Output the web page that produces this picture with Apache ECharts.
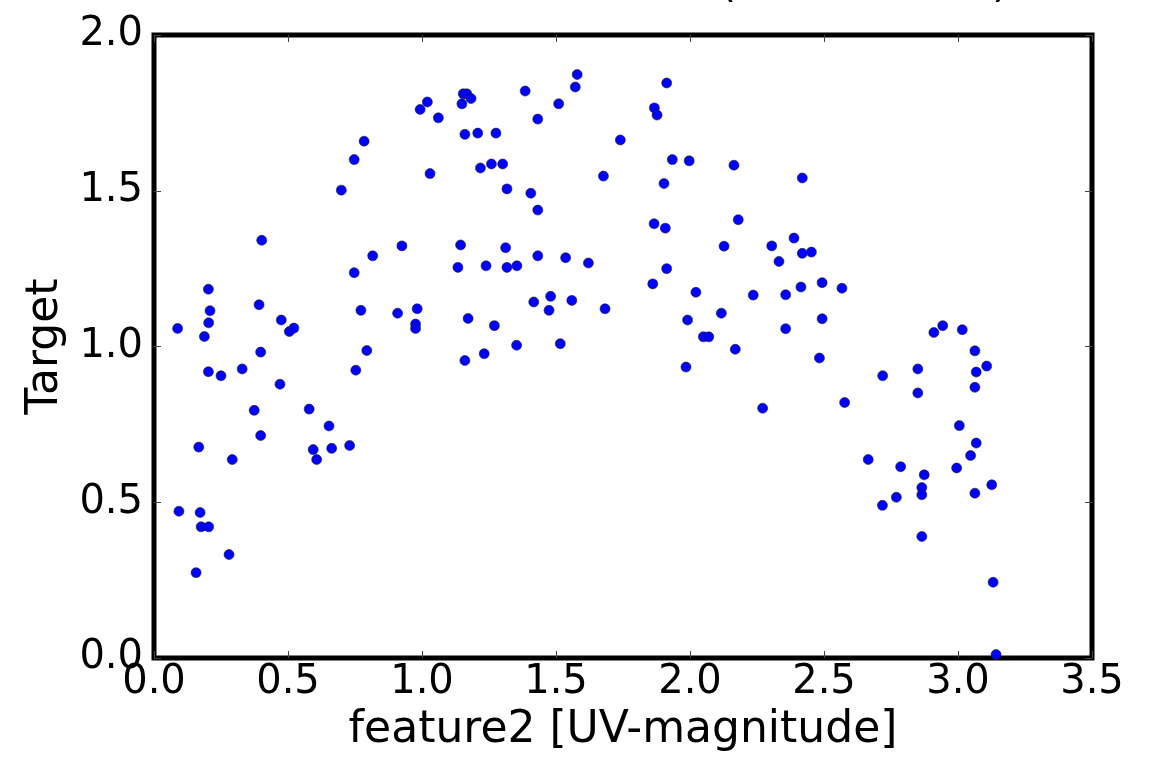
<!DOCTYPE html>
<html>
<head>
<meta charset="utf-8">
<script src="https://cdn.jsdelivr.net/npm/echarts@6/dist/echarts.min.js"></script>
<style>
html,body{margin:0;padding:0;background:#fff;}
#chart{width:1151px;height:758px;}
</style>
</head>
<body>
<div id="chart"></div>
<script>
// feature2 [UV-magnitude] values
const featureX = [
  0.088,0.188,0.203,0.209,0.204,0.505,0.522,0.402,0.392,0.475,
  0.976,0.976,0.982,0.909,0.772,0.816,0.747,0.925,0.699,0.747,
  0.784,1.030,0.993,1.020,1.061,0.398,0.794,0.203,0.250,0.329,
  0.753,0.470,0.374,0.579,0.653,0.398,0.167,0.292,0.594,0.607,
  0.663,0.730,0.093,0.172,0.176,0.204,0.280,0.157,
  1.579,1.572,1.913,1.154,1.167,1.183,1.149,1.385,1.510,1.432,
  1.867,1.877,1.160,1.208,1.276,1.740,1.218,1.259,1.301,1.677,
  1.934,1.997,2.164,1.903,1.317,1.406,1.432,1.866,1.908,2.180,
  1.144,1.312,1.134,1.239,1.317,1.354,1.432,1.536,1.621,2.127,
  1.913,1.861,2.022,2.236,1.417,1.480,1.474,1.559,1.683,1.172,
  1.270,1.353,1.516,1.160,1.232,1.991,2.117,2.050,2.070,2.169,
  1.985,
  2.271,2.419,2.388,2.305,2.419,2.453,2.332,2.493,2.414,2.567,
  2.357,2.357,2.493,2.483,2.910,2.943,3.016,3.063,3.107,3.068,
  3.063,2.850,2.850,2.719,2.577,3.005,3.068,3.047,2.995,3.126,
  3.063,2.665,2.786,2.874,2.865,2.865,2.770,2.718,2.865,3.131,
  3.142
];
// Target values
const targetY = [
  1.058,1.032,1.184,1.115,1.076,1.048,1.059,1.341,1.134,1.085,
  1.072,1.058,1.121,1.107,1.116,1.291,1.237,1.323,1.502,1.600,
  1.659,1.555,1.761,1.785,1.734,0.982,0.987,0.919,0.906,0.928,
  0.924,0.879,0.795,0.799,0.745,0.714,0.677,0.637,0.669,0.637,
  0.673,0.682,0.471,0.467,0.421,0.421,0.332,0.274,
  1.873,1.833,1.846,1.811,1.811,1.796,1.779,1.820,1.779,1.730,
  1.766,1.743,1.681,1.685,1.685,1.663,1.573,1.586,1.586,1.547,
  1.600,1.596,1.582,1.523,1.506,1.492,1.438,1.394,1.380,1.407,
  1.326,1.317,1.254,1.259,1.254,1.259,1.291,1.285,1.268,1.322,
  1.250,1.201,1.174,1.165,1.143,1.161,1.116,1.148,1.121,1.090,
  1.067,1.004,1.009,0.955,0.977,1.085,1.107,1.031,1.031,0.991,
  0.934,
  0.802,1.541,1.348,1.323,1.299,1.303,1.273,1.205,1.191,1.187,
  1.166,1.057,1.089,0.963,1.045,1.067,1.054,0.986,0.937,0.918,
  0.869,0.928,0.851,0.906,0.820,0.746,0.690,0.650,0.610,0.556,
  0.529,0.637,0.614,0.588,0.547,0.524,0.516,0.490,0.390,0.243,
  0.011
];
const xTicks = [0, 0.5, 1.0, 1.5, 2.0, 2.5, 3.0, 3.5];
const yTicks = [0, 0.5, 1.0, 1.5, 2.0];
const xLabel = 'feature2 [UV-magnitude]';
const yLabel = 'Target';

const points = featureX.map((x, i) => [x, targetY[i]]);
const FONT = 'DejaVu Sans';

const chart = echarts.init(document.getElementById('chart'), null, {renderer: 'canvas'});

function tickStyle() {
  return {show: true, inside: true, length: 7, lineStyle: {color: '#444', width: 1}};
}
function hiddenLine() {
  return {show: false, onZero: false};
}

chart.setOption({
  animation: false,
  backgroundColor: '#ffffff',
  grid: {
    left: 154, right: 59, top: 35, bottom: 98,
    show: true, borderColor: '#000', borderWidth: 5, backgroundColor: '#fff'
  },
  graphic: [
    {type: 'text', left: 719, top: -37, z: 100, style: {text: '(', font: '44px "DejaVu Sans"', fill: '#000'}},
    {type: 'text', left: 992, top: -37, z: 100, style: {text: ')', font: '44px "DejaVu Sans"', fill: '#000'}}
  ],
  xAxis: [{
    type: 'value', min: xTicks[0], max: xTicks[xTicks.length - 1], interval: 0.5,
    position: 'bottom',
    name: xLabel, nameLocation: 'middle', nameGap: 51,
    nameTextStyle: {fontFamily: FONT, fontSize: 44, color: '#000'},
    axisLine: hiddenLine(),
    axisTick: tickStyle(),
    splitLine: {show: false},
    axisLabel: {fontFamily: FONT, fontSize: 40, color: '#000', margin: 5,
      formatter: v => v.toFixed(1)}
  }, {
    type: 'value', min: xTicks[0], max: xTicks[xTicks.length - 1], interval: 0.5,
    position: 'top',
    axisLine: hiddenLine(), axisTick: tickStyle(), splitLine: {show: false},
    axisLabel: {show: false}
  }],
  yAxis: [{
    type: 'value', min: yTicks[0], max: yTicks[yTicks.length - 1], interval: 0.5,
    position: 'left',
    name: yLabel, nameLocation: 'middle', nameGap: 86, nameRotate: 90,
    nameTextStyle: {fontFamily: FONT, fontSize: 44, color: '#000'},
    axisLine: hiddenLine(),
    axisTick: tickStyle(),
    splitLine: {show: false},
    axisLabel: {fontFamily: FONT, fontSize: 40, color: '#000', margin: 11,
      formatter: v => v.toFixed(1)}
  }, {
    type: 'value', min: yTicks[0], max: yTicks[yTicks.length - 1], interval: 0.5,
    position: 'right',
    axisLine: hiddenLine(), axisTick: tickStyle(), splitLine: {show: false},
    axisLabel: {show: false}
  }],
  series: [{
    type: 'scatter',
    xAxisIndex: 0, yAxisIndex: 0,
    data: points,
    symbol: 'circle',
    symbolSize: 10,
    itemStyle: {color: '#0000ff', borderColor: '#222', borderWidth: 0.6, opacity: 1},
    clip: false
  }]
});
</script>
</body>
</html>
